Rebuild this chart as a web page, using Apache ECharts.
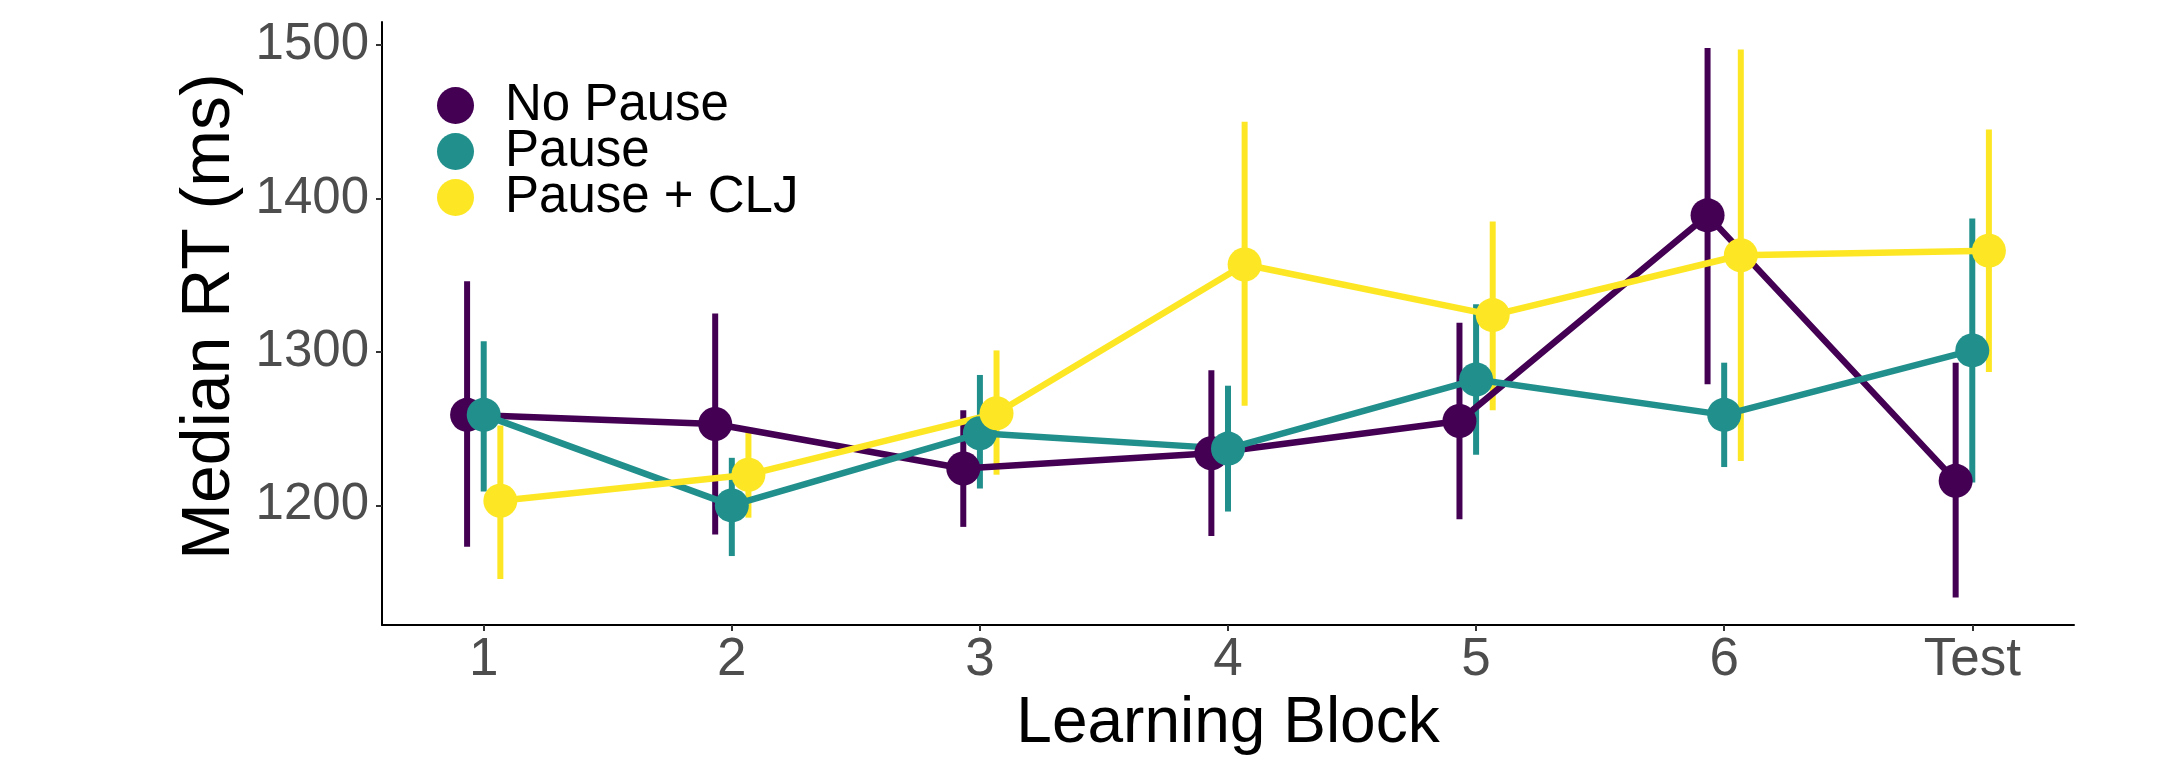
<!DOCTYPE html>
<html>
<head>
<meta charset="utf-8">
<script src="https://cdn.jsdelivr.net/npm/echarts@6/dist/echarts.min.js"></script>
<style>
html,body{margin:0;padding:0;background:#fff;}
#chart{width:2183px;height:761px;}
</style>
</head>
<body>
<div id="chart"></div>
<script>
// ---- data ----
const categories = ['1', '2', '3', '4', '5', '6', 'Test'];
const seriesNames = ['No Pause', 'Pause', 'Pause + CLJ'];
const noPause   = [1259, 1253, 1224, 1234, 1255, 1389, 1216];
const noPauseLo = [1173, 1181, 1186, 1180, 1191, 1279, 1140];
const noPauseHi = [1346, 1325, 1262, 1288, 1319, 1498, 1293];
const pause     = [1259, 1200, 1247, 1237, 1282, 1259, 1301];
const pauseLo   = [1209, 1167, 1211, 1196, 1233, 1225, 1215];
const pauseHi   = [1307, 1231, 1285, 1278, 1331, 1293, 1387];
const clj       = [1203, 1220, 1260, 1357, 1324, 1363, 1366];
const cljLo     = [1152, 1192, 1220, 1265, 1262, 1229, 1287];
const cljHi     = [1252, 1249, 1301, 1450, 1385, 1497, 1445];
const yTicks = [1200, 1300, 1400, 1500];

// ---- styling ----
const colors = ['#440154', '#21908C', '#FDE725'];
const dodge = [-0.067, 0, 0.067];
const FONT = "'Liberation Sans', Arial, sans-serif";

const groups = [
  {mean: noPause, lo: noPauseLo, hi: noPauseHi},
  {mean: pause, lo: pauseLo, hi: pauseHi},
  {mean: clj, lo: cljLo, hi: cljHi}
];

const series = [];
groups.forEach((g, gi) => {
  const color = colors[gi];
  const errData = categories.map((c, i) => [i + 1 + dodge[gi], g.lo[i], g.hi[i]]);
  series.push({
    type: 'custom',
    name: seriesNames[gi] + ' err',
    data: errData,
    encode: {x: 0, y: [1, 2]},
    renderItem: function (params, api) {
      const x = api.value(0);
      const p1 = api.coord([x, api.value(1)]);
      const p2 = api.coord([x, api.value(2)]);
      return {
        type: 'line',
        shape: {x1: p1[0], y1: p1[1], x2: p2[0], y2: p2[1]},
        style: {stroke: color, lineWidth: 6}
      };
    },
    silent: true
  });
  series.push({
    type: 'line',
    name: seriesNames[gi],
    data: categories.map((c, i) => [i + 1 + dodge[gi], g.mean[i]]),
    symbol: 'circle',
    symbolSize: 34,
    showAllSymbol: true,
    lineStyle: {color: color, width: 6.5},
    itemStyle: {color: color},
    silent: true
  });
});

const chart = echarts.init(document.getElementById('chart'), null, {renderer: 'canvas'});
chart.setOption({
  animation: false,
  backgroundColor: '#ffffff',
  grid: {left: 382, right: 109, top: 22, bottom: 130, containLabel: false},
  legend: {
    data: seriesNames,
    orient: 'vertical',
    left: 432,
    top: 75,
    icon: 'circle',
    itemWidth: 37,
    itemHeight: 37,
    itemGap: -5,
    textStyle: {fontFamily: FONT, fontSize: 51, color: '#000', lineHeight: 47, padding: [0, 0, 0, 26]}
  },
  xAxis: {
    type: 'value',
    min: 0.59,
    max: 7.41,
    name: 'Learning Block',
    nameLocation: 'middle',
    nameGap: 64,
    nameTextStyle: {fontFamily: FONT, fontSize: 64, color: '#000'},
    axisLine: {show: true, lineStyle: {color: '#000', width: 2}},
    axisTick: {show: true, length: 6, lineStyle: {color: '#333', width: 2}, customValues: [1, 2, 3, 4, 5, 6, 7]},
    axisLabel: {
      fontFamily: FONT, fontSize: 53, color: '#4D4D4D', margin: 9,
      customValues: [1, 2, 3, 4, 5, 6, 7],
      formatter: v => categories[Math.round(v) - 1]
    },
    splitLine: {show: false}
  },
  yAxis: {
    type: 'value',
    min: 1122,
    max: 1515,
    name: 'Median RT (ms)',
    nameLocation: 'middle',
    nameGap: 123,
    nameTextStyle: {fontFamily: FONT, fontSize: 68, color: '#000', padding: [0, 0, 0, 14]},
    axisLine: {show: true, lineStyle: {color: '#000', width: 2}},
    axisTick: {show: true, length: 6, lineStyle: {color: '#333', width: 2}, customValues: yTicks},
    axisLabel: {
      fontFamily: FONT, fontSize: 51, color: '#4D4D4D', margin: 13,
      customValues: yTicks,
      formatter: v => String(v)
    },
    splitLine: {show: false}
  },
  series: series
});
</script>
</body>
</html>
